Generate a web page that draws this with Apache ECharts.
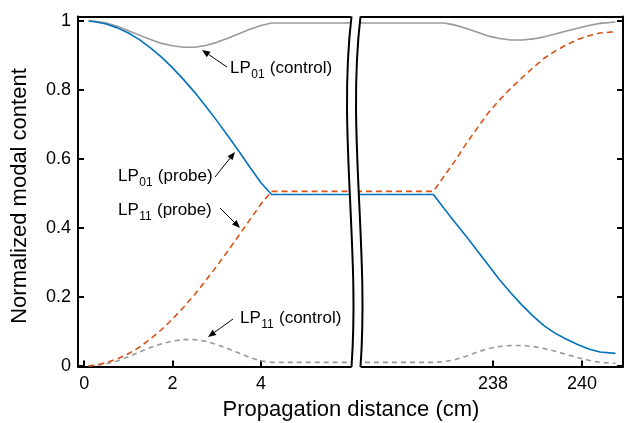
<!DOCTYPE html>
<html><head><meta charset="utf-8">
<script src="https://cdn.jsdelivr.net/npm/echarts@6/dist/echarts.min.js"></script>
<style>html,body{margin:0;padding:0;background:#fff}#c{width:627px;height:423px}</style>
</head><body><div id="c"></div>
<script>
// ---- data ----
const leftX  = [0.1,0.25,0.5,0.75,1.0,1.25,1.5,1.75,2.0,2.25,2.5,2.75,3.0,3.25,3.5,3.75,4.0,4.24,6.15];
const probe01Left = [1.000,0.998,0.991,0.980,0.965,0.946,0.922,0.895,0.864,0.830,0.793,0.753,0.711,0.667,0.622,0.576,0.531,0.497,0.497];
const probe11Left = [0.000,0.002,0.009,0.020,0.035,0.054,0.078,0.105,0.136,0.170,0.207,0.247,0.289,0.333,0.378,0.424,0.469,0.506,0.506];
const ctrl01Left  = [1.000,0.999,0.994,0.985,0.972,0.959,0.946,0.935,0.928,0.924,0.924,0.929,0.938,0.950,0.963,0.976,0.987,0.994,0.994];
const ctrl11Left  = [0.000,0.001,0.006,0.014,0.026,0.040,0.053,0.064,0.072,0.076,0.076,0.071,0.062,0.050,0.037,0.024,0.014,0.010,0.010];

const rightX = [234.92,236.66,236.9,237.15,237.4,237.65,237.9,238.15,238.4,238.65,238.9,239.15,239.4,239.65,239.9,240.15,240.4,240.75];
const probe01Right = [0.497,0.497,0.456,0.415,0.375,0.333,0.291,0.249,0.211,0.176,0.144,0.116,0.094,0.077,0.062,0.049,0.040,0.036];
const probe11Right = [0.506,0.506,0.550,0.595,0.645,0.690,0.735,0.772,0.805,0.835,0.865,0.892,0.913,0.931,0.946,0.957,0.965,0.969];
const ctrl01Right  = [0.994,0.994,0.994,0.988,0.978,0.967,0.956,0.949,0.945,0.945,0.948,0.954,0.962,0.971,0.979,0.987,0.993,0.997];
const ctrl11Right  = [0.010,0.010,0.012,0.018,0.028,0.040,0.050,0.056,0.059,0.059,0.056,0.050,0.042,0.033,0.024,0.016,0.010,0.007];

const yTicks = [0,0.2,0.4,0.6,0.8,1];
const xTicksLeft = [0,2,4];
const xTicksRight = [238,240];
const xTitle = 'Propagation distance (cm)';
const yTitle = 'Normalized modal content';

// ---- chart ----
const FONT = '"Liberation Sans", Arial, Helvetica, sans-serif';
const BLUE = '#0072BD', ORANGE = '#D95319', GRAY = '#999999';
const chart = echarts.init(document.getElementById('c'), null, {renderer: 'canvas'});
const zip = (xs, ys) => xs.map((x, i) => [x, ys[i]]);

const G0 = {left: 78, top: 16.5, width: 278, height: 350};
const G1 = {left: 356, top: 16.5, width: 267, height: 350};

const lineAx = {lineStyle: {color: '#000', width: 2}};
const tickAx = {show: true, inside: true, length: 6, lineStyle: {color: '#000', width: 2}};
const lab = {color: '#000', fontSize: 18, fontFamily: FONT};

function xAxisBottom(gi, min, max, ticks) {
  return {type: 'value', gridIndex: gi, position: 'bottom', min, max,
    axisLine: Object.assign({onZero: false}, lineAx), splitLine: {show: false},
    axisTick: Object.assign({customValues: ticks}, tickAx),
    axisLabel: Object.assign({customValues: ticks, margin: 9}, lab)};
}
function xAxisTop(gi, min, max) {
  return {type: 'value', gridIndex: gi, position: 'top', min, max,
    axisLine: Object.assign({onZero: false}, lineAx), splitLine: {show: false},
    axisTick: {show: false}, axisLabel: {show: false}};
}
function yAx(gi, pos, labels) {
  return {type: 'value', gridIndex: gi, position: pos, min: -0.002, max: 1.013,
    axisLine: Object.assign({onZero: false}, lineAx), splitLine: {show: false},
    axisTick: Object.assign({customValues: yTicks}, tickAx),
    axisLabel: labels ? Object.assign({customValues: yTicks, margin: 7}, lab) : {show: false}};
}

function ser(xi, data, color, dashed, dash) {
  return {type: 'line', xAxisIndex: xi, yAxisIndex: xi % 2 === 0 ? 0 : 1, data, symbol: 'none',
    silent: true, animation: false,
    lineStyle: {color, width: 1.6, type: dashed ? dash : 'solid'}};
}

const series = [
  ser(0, zip(leftX, ctrl01Left), GRAY, false),
  ser(1, zip(rightX, ctrl01Right), GRAY, false),
  ser(0, zip(leftX, ctrl11Left), GRAY, true, [5, 4]),
  ser(1, zip(rightX, ctrl11Right), GRAY, true, [5, 4]),
  ser(0, zip(leftX, probe01Left), BLUE, false),
  ser(1, zip(rightX, probe01Right), BLUE, false),
  ser(0, zip(leftX, probe11Left), ORANGE, true, [6, 4]),
  ser(1, zip(rightX, probe11Right), ORANGE, true, [6, 4])
];

// text measuring
const mctx = document.createElement('canvas').getContext('2d');
function tw(t, size) { mctx.font = size + 'px ' + FONT; return mctx.measureText(t).width; }

function label(x, cy, sub, rest) {
  const s = 17, ss = 12;
  const w1 = tw('LP', s), w2 = tw(sub, ss);
  const st = {fill: '#000', fontFamily: FONT, textVerticalAlign: 'middle', textAlign: 'left'};
  return [
    {type: 'text', x: x, y: cy, style: Object.assign({text: 'LP', fontSize: s}, st), z: 100},
    {type: 'text', x: x + w1 + 0.5, y: cy + 7, style: Object.assign({text: sub, fontSize: ss}, st), z: 100},
    {type: 'text', x: x + w1 + w2 + 1, y: cy, style: Object.assign({text: ' ' + rest, fontSize: s}, st), z: 100}
  ];
}
function arrow(x1, y1, x2, y2) {
  const dx = x2 - x1, dy = y2 - y1, L = Math.hypot(dx, dy);
  const ux = dx / L, uy = dy / L, hl = 8, hw = 3.2;
  const bx = x2 - ux * hl, by = y2 - uy * hl;
  return [
    {type: 'line', shape: {x1, y1, x2: bx, y2: by}, style: {stroke: '#000', lineWidth: 1}, z: 100},
    {type: 'polygon', shape: {points: [[x2, y2], [bx - uy * hw, by + ux * hw], [bx + uy * hw, by - ux * hw]]},
     style: {fill: '#000'}, z: 100}
  ];
}

const brk = (dx) => ({x1: 351.5 + dx, y1: 16.5, x2: 351.5 + dx, y2: 367, cpx1: 338 + dx, cpy1: 130, cpx2: 360 + dx, cpy2: 250});
const graphic = [].concat(
  [{type: 'bezierCurve', shape: {x1: 356, y1: 13, x2: 356, y2: 370, cpx1: 342.5, cpy1: 128, cpx2: 364.5, cpy2: 252},
    style: {stroke: '#fff', lineWidth: 9, fill: null}, z: 200},
   {type: 'bezierCurve', shape: brk(0), style: {stroke: '#000', lineWidth: 2, fill: null}, z: 201},
   {type: 'bezierCurve', shape: brk(9), style: {stroke: '#000', lineWidth: 2, fill: null}, z: 201},
   {type: 'text', x: 351, y: 410, style: {text: xTitle, fontSize: 22, fontFamily: FONT, fill: '#000', textAlign: 'center', textVerticalAlign: 'middle'}, z: 100},
   {type: 'text', x: 20, y: 196, rotation: Math.PI / 2, style: {text: yTitle, fontSize: 22, fontFamily: FONT, fill: '#000', textAlign: 'center', textVerticalAlign: 'middle'}, z: 100}],
  label(230, 68, '01', '(control)'), arrow(227, 67, 202, 50),
  label(118, 176, '01', '(probe)'), arrow(215, 177, 235, 152),
  label(118, 210, '11', '(probe)'), arrow(220, 208, 240, 228),
  label(240, 318, '11', '(control)'), arrow(233, 319, 208, 337)
);

chart.setOption({
  animation: false,
  backgroundColor: '#fff',
  grid: [Object.assign({}, G0), Object.assign({}, G1)],
  xAxis: [xAxisBottom(0, -0.14, 6.15, xTicksLeft), xAxisBottom(1, 234.92, 240.92, xTicksRight),
          xAxisTop(0, -0.14, 6.15), xAxisTop(1, 234.92, 240.92)],
  yAxis: [yAx(0, 'left', true), yAx(1, 'right', false)],
  series: series,
  graphic: graphic
});
</script></body></html>
